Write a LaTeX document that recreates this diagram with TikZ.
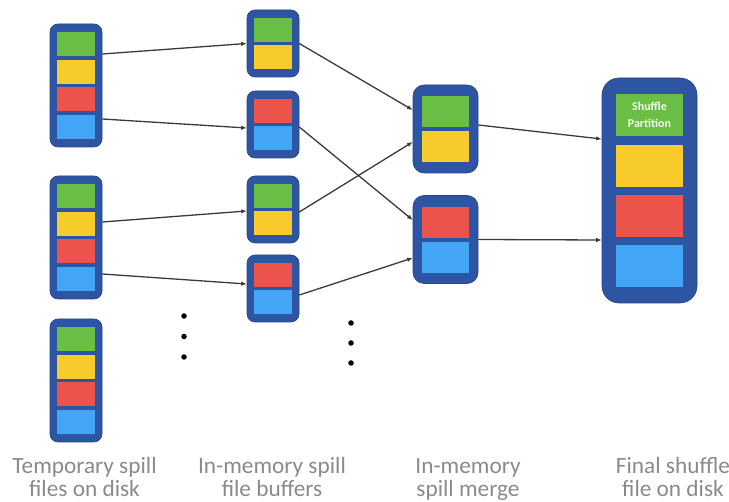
\documentclass[tikz,border=0pt]{standalone}
\usepackage{fontspec}
\setmainfont{Carlito}
\usetikzlibrary{arrows.meta}
\definecolor{sbox}{HTML}{2E55A3}
\definecolor{sgreen}{HTML}{6BBE45}
\definecolor{syellow}{HTML}{F6CB2B}
\definecolor{sred}{HTML}{EA544A}
\definecolor{sblue}{HTML}{42A5F5}
\definecolor{sarrow}{HTML}{3A3A3A}
\definecolor{slabel}{HTML}{8A8A8A}
\begin{document}
\begin{tikzpicture}[x=1pt,y=-1pt,
  box/.style={fill=sbox,draw=sbox!80!black,line width=0.6pt,inner sep=0pt,rounded corners=8pt},
  lbox/.style={box,minimum width=52pt,minimum height=123pt},
  bbox/.style={box,minimum width=52pt,minimum height=67pt},
  mbox/.style={box,minimum width=65pt,minimum height=88pt,rounded corners=11pt},
  fbox/.style={box,minimum width=95pt,minimum height=225pt,rounded corners=17pt},
  cell/.style={inner sep=0pt,draw=none,minimum width=38pt,minimum height=24pt},
  mcell/.style={cell,minimum width=47pt,minimum height=31pt},
  fcell/.style={cell,minimum width=67pt,minimum height=42pt},
  conn/.style={draw=sarrow,line width=1.3pt,-{Latex[length=5.5pt,width=4.5pt]}},
  dot/.style={circle,fill=black,inner sep=0pt,minimum size=5.5pt},
  lab/.style={text=slabel,align=center,inner sep=0pt,anchor=base,font=\fontsize{23.3}{23}\selectfont}
]
\useasboundingbox (0,0) rectangle (729,502);
% left column: temporary spill files
\node[lbox] (L1) at (76,85.5) {};
\node[cell,fill=sgreen]  (L1g) at (76,44.5) {};
\node[cell,fill=syellow] (L1y) at (76,72) {};
\node[cell,fill=sred]    (L1r) at (76,99.5) {};
\node[cell,fill=sblue]   (L1b) at (76,127) {};
\node[lbox] (L2) at (76,237.5) {};
\node[cell,fill=sgreen]  (L2g) at (76,196.5) {};
\node[cell,fill=syellow] (L2y) at (76,224) {};
\node[cell,fill=sred]    (L2r) at (76,251.5) {};
\node[cell,fill=sblue]   (L2b) at (76,279) {};
\node[lbox] (L3) at (76,380.5) {};
\node[cell,fill=sgreen]  (L3g) at (76,339.5) {};
\node[cell,fill=syellow] (L3y) at (76,367) {};
\node[cell,fill=sred]    (L3r) at (76,394.5) {};
\node[cell,fill=sblue]   (L3b) at (76,422) {};
% second column: in-memory spill file buffers
\node[bbox] (B1) at (273,43.5) {};
\node[cell,fill=sgreen]  (B1g) at (273,30) {};
\node[cell,fill=syellow] (B1y) at (273,57.5) {};
\node[bbox] (B2) at (273,124.5) {};
\node[cell,fill=sred]    (B2r) at (273,111) {};
\node[cell,fill=sblue]   (B2b) at (273,138.5) {};
\node[bbox] (B3) at (273,209.5) {};
\node[cell,fill=sgreen]  (B3g) at (273,196) {};
\node[cell,fill=syellow] (B3y) at (273,223.5) {};
\node[bbox] (B4) at (273,288.5) {};
\node[cell,fill=sred]    (B4r) at (273,275) {};
\node[cell,fill=sblue]   (B4b) at (273,302.5) {};
% third column: in-memory spill merge
\node[mbox] (M1) at (445.5,129) {};
\node[mcell,fill=sgreen]  (M1g) at (445.5,112) {};
\node[mcell,fill=syellow] (M1y) at (445.5,147) {};
\node[mbox] (M2) at (445.5,239.5) {};
\node[mcell,fill=sred]    (M2r) at (445.5,223) {};
\node[mcell,fill=sblue]   (M2b) at (445.5,258) {};
% final shuffle file
\node[fbox] (F) at (649.5,190.5) {};
\node[fcell,fill=sgreen,text=white!92!sgreen,font=\bfseries\fontsize{12}{17}\selectfont,align=center] (Fg) at (649.5,115) {Shuffle\\Partition};
\node[fcell,fill=syellow] (Fy) at (649.5,166) {};
\node[fcell,fill=sred]    (Fr) at (649.5,216.5) {};
\node[fcell,fill=sblue]   (Fb) at (649.5,266) {};
% connectors
\draw[conn] ([yshift=31.5pt]L1.east) -- (B1.west);
\draw[conn] ([yshift=-33.5pt]L1.east) -- ([yshift=-3.5pt]B2.west);
\draw[conn] ([yshift=15.5pt]L2.east) -- ([yshift=-1.5pt]B3.west);
\draw[conn] ([yshift=-36.5pt]L2.east) -- ([yshift=4.5pt]B4.west);
\draw[conn] (B1.east) -- ([yshift=19pt]M1.west);
\draw[conn] ([yshift=-2.5pt]B2.east) -- ([yshift=19.5pt]M2.west);
\draw[conn] ([yshift=-2.5pt]B3.east) -- ([yshift=-13pt]M1.west);
\draw[conn] ([yshift=-6.5pt]B4.east) -- ([yshift=-18.5pt]M2.west);
\draw[conn] ([yshift=4pt]M1.east) -- ([yshift=51.5pt]F.west);
\draw[conn] (M2.east) -- ([yshift=-49.5pt]F.west);
% ellipsis dots
\node[dot] (d1) at (184,316) {};
\node[dot] (d2) at (184,336.5) {};
\node[dot] (d3) at (184,357) {};
\node[dot] (d4) at (351,323) {};
\node[dot] (d5) at (351,343) {};
\node[dot] (d6) at (351,363) {};
% labels (base anchor = last line baseline)
\node[lab] (t1) at (84.5,497) {Temporary spill\\files on disk};
\node[lab] (t2) at (272,497) {In-memory spill\\file buffers};
\node[lab] (t3) at (468,497) {In-memory\\spill merge};
\node[lab] (t4) at (673,497) {Final shuffle\\file on disk};
\end{tikzpicture}
\end{document}
